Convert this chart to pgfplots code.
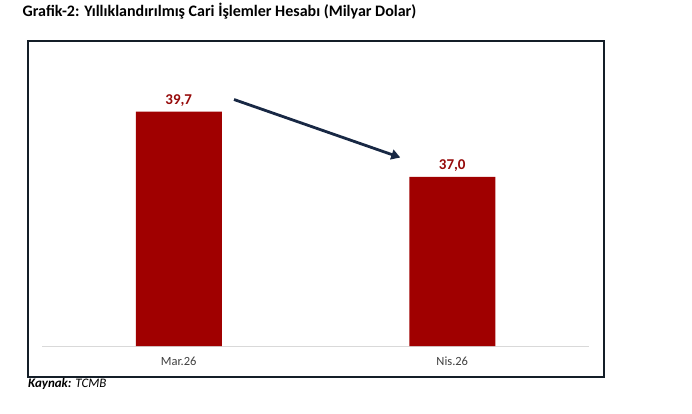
\documentclass[border=0pt]{standalone}
\usepackage{pgfplots}
\pgfplotsset{compat=1.18}
\usepackage{fontspec}
\setmainfont{Carlito}
\usetikzlibrary{arrows.meta}
\definecolor{barred}{RGB}{160,0,0}
\definecolor{lblred}{RGB}{150,10,10}
\definecolor{navy}{RGB}{24,40,68}
\definecolor{boxc}{RGB}{20,30,40}
\definecolor{ticktext}{RGB}{64,64,64}
\definecolor{basegray}{RGB}{217,217,217}
\begin{document}
\begin{tikzpicture}[x=1pt,y=1pt]
\path (0,0) rectangle (692,413);
\node[anchor=base west,inner sep=0pt,font=\fontsize{16}{18}\selectfont\bfseries] at (22.5,396) {Grafik-2: Yıllıklandırılmış Cari İşlemler Hesabı (Milyar Dolar)};
\draw[boxc,line width=1.2pt] (28,372) rectangle (604,36);
\node[anchor=base west,inner sep=0pt,font=\fontsize{13}{15}\selectfont\itshape] at (28,26) {\textbf{Kaynak:} TCMB};
\begin{axis}[
  at={(42pt,67pt)}, anchor=south west,
  scale only axis, width=547pt, height=290pt,
  xmin=-0.5, xmax=1.5, ymin=30, ymax=42,
  axis y line=none,
  axis x line*=bottom,
  x axis line style={basegray,line width=0.8pt,-},
  xtick=data, xticklabels={Mar.26,Nis.26},
  xtick style={draw=none},
  xticklabel style={font=\fontsize{12.5}{14}\selectfont, text=ticktext, yshift=-3pt},
  ybar, bar width=86pt,
  nodes near coords,
  nodes near coords style={font=\fontsize{15}{17}\selectfont\bfseries, text=lblred, yshift=2pt},
  point meta=explicit symbolic,
  clip=false,
]
\addplot[fill=barred, draw=none] table[meta=label] {
x y label
0 39.7 39,7
1 37.0 37,0
};
\draw[navy, line width=2.8pt, -{Triangle[length=9pt,width=10pt]}] (axis cs:0.202,40.2) -- (axis cs:0.81,37.8);
\end{axis}
\end{tikzpicture}
\end{document}
